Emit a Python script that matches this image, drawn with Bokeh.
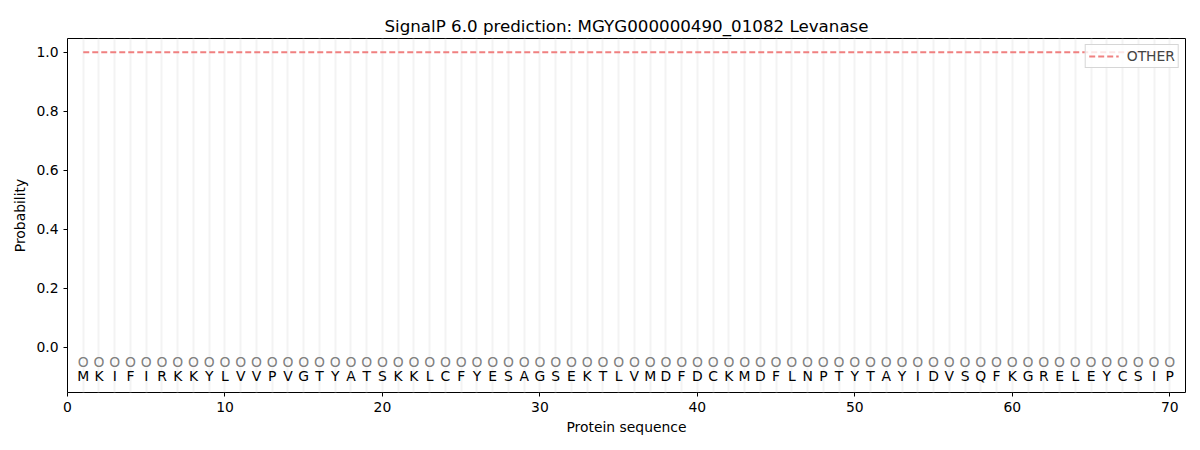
from bokeh.plotting import figure
from bokeh.models import FixedTicker, PrintfTickFormatter, Range1d, ColumnDataSource, Legend, LegendItem
from bokeh.core.properties import value
from bokeh.embed import file_html
from bokeh.resources import INLINE

title = "SignalP 6.0 prediction: MGYG000000490_01082 Levanase"
sequence = list("MKIFIRKKYLVVPVGTYATSKKLCFYESAGSEKTLVMDFDCKMDFLNPTYTAYIDVSQFKGRELEYCSIP")
positions = list(range(1, len(sequence) + 1))
labels = ["O"] * len(sequence)
prob_other = [1.0] * len(sequence)
x_ticks = [0, 10, 20, 30, 40, 50, 60, 70]
y_ticks = [0.0, 0.2, 0.4, 0.6, 0.8, 1.0]
label_y = -0.05
residue_y = -0.097

FONT = "DejaVu Sans"
FS = "13.9px"

p = figure(width=1192, height=442, output_backend="svg", toolbar_location=None,
           x_range=Range1d(0, 71), y_range=Range1d(-0.153, 1.047),
           min_border_left=67, min_border_right=7, min_border_top=38, min_border_bottom=50)
p.frame_width = 1118
p.frame_height = 354

p.title.text = title
p.title.align = "center"
p.title.text_font = FONT
p.title.text_font_size = "16.7px"
p.title.text_font_style = "normal"
p.title.text_color = "black"
p.title.standoff = 6

p.outline_line_color = "black"
p.outline_line_width = 1

for ax in (p.xaxis[0], p.yaxis[0]):
    ax.major_label_text_font = FONT
    ax.major_label_text_font_size = FS
    ax.major_label_text_color = "black"
    ax.axis_label_text_font = FONT
    ax.axis_label_text_font_size = FS
    ax.axis_label_text_font_style = "normal"
    ax.axis_label_text_color = "black"
    ax.axis_line_color = None
    ax.major_tick_line_color = "black"
    ax.major_tick_out = 4
    ax.major_tick_in = 0
    ax.minor_tick_line_color = None

p.xaxis.axis_label = "Protein sequence"
p.yaxis.axis_label = "Probability"
p.xaxis.ticker = FixedTicker(ticks=x_ticks)
p.yaxis.ticker = FixedTicker(ticks=y_ticks)
p.yaxis.formatter = PrintfTickFormatter(format="%.1f")
p.xaxis.axis_label_standoff = 4
p.yaxis.axis_label_standoff = 5

p.ygrid.grid_line_color = None
p.xgrid.ticker = FixedTicker(ticks=positions)
p.xgrid.grid_line_color = "#eeeeee"
p.xgrid.grid_line_alpha = 0.7
p.xgrid.grid_line_width = 2

src = ColumnDataSource(dict(x=positions, aa=sequence, lab=labels,
                            ly=[label_y] * len(positions), ry=[residue_y] * len(positions),
                            other=prob_other))

p.text(x="x", y="ly", text="lab", source=src, text_align="center", text_baseline="middle",
       text_font=value(FONT), text_font_size=FS, text_color="#808080")
p.text(x="x", y="ry", text="aa", source=src, text_align="center", text_baseline="middle",
       text_font=value(FONT), text_font_size=FS, text_color="black")

r = p.line(x="x", y="other", source=src, line_color="#f08080", line_width=2, line_dash="6 3")

legend = Legend(items=[LegendItem(label="OTHER", renderers=[r])], location="top_right")
legend.label_text_font = FONT
legend.label_text_font_size = FS
legend.border_line_color = "#cccccc"
legend.border_line_alpha = 0.8
legend.background_fill_alpha = 0.8
legend.margin = 6
legend.padding = 3
legend.spacing = 0
legend.glyph_width = 30
legend.label_standoff = 8
legend.label_height = 16
legend.glyph_height = 16
p.add_layout(legend)

open("out.html", "w").write(file_html(p, INLINE))
